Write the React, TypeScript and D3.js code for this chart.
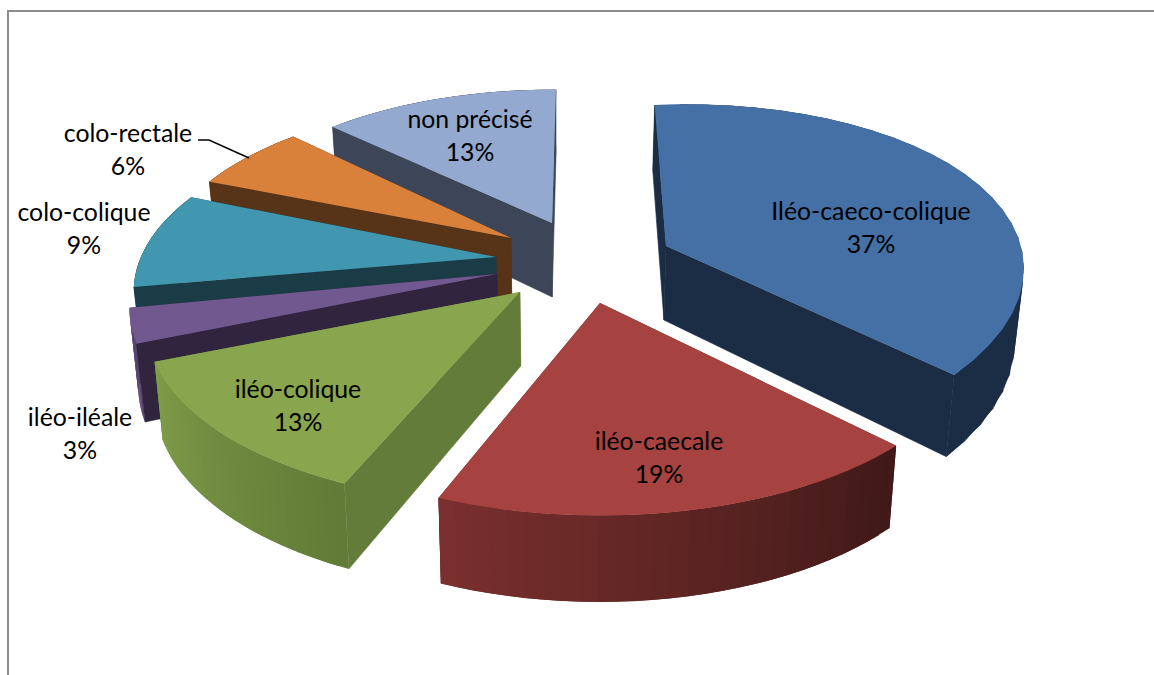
import React from "react";
import * as d3 from "d3";

// ---- data ----
const categories = ["Iléo-caeco-colique", "iléo-caecale", "iléo-colique", "iléo-iléale", "colo-colique", "colo-rectale", "non précisé"];
const percents = [37, 19, 13, 3, 9, 6, 13];

// ---- layout of each exploded slice (same order as categories) ----
const firstAngle = -4.5;
const apexX = [666, 600, 520, 497, 496, 511, 552];
const apexY = [246, 303, 292, 274, 257, 238, 223];
const radiusX = [355, 365, 365, 360, 355, 348, 341];
const radiusY = [170, 170, 170, 170, 168, 165, 160];
const shearX = [-0.15, 0, 0, 0, 0, 0, 0];
const nudgeStart = [-1.8, 7.3, 6.0, 3.8, 5.4, 4.4, 4.3];
const nudgeEnd = [2.5, 4, 3.8, 4.3, 5.4, 5.8, 5.3];
const perspective = 0.2;
const depth = 74;
const bottomScale = 0.98;
const vanishX = 560;

// ---- colours ----
const topColors = ["#4570a6", "#a64340", "#89a54e", "#71588f", "#4197af", "#d9803b", "#93a9cf"];
const sideColors = ["#1b2d45", "#421a18", "#647c3a", "#30243f", "#1a3c47", "#573417", "#3c4658"];
const wallFrom = ["#1b2d45", "#3f1918", "#617b37", "#5a4672", "#1a3c47", "#573417", "#3c4658"];
const wallTo = ["#1b2d45", "#7a302e", "#7f9c49", "#5a4672", "#1a3c47", "#573417", "#3c4658"];
const paintOrder = [6, 5, 4, 3, 2, 1, 0];

// ---- labels ----
const labelX = [871, 659, 298, 80, 84, 128, 470];
const labelY = [220, 450, 398, 426, 221, 142, 128];
const lineGap = 33;
const leader: [number, number][] = [[198, 140], [209, 140], [249, 158]];

const deg = Math.PI / 180;
const toPath = d3.line<[number, number]>();
const slices = d3.pie<number>().sort(null).startAngle(firstAngle * deg).endAngle((360 + firstAngle) * deg)(percents);

type Pt = [number, number];
const sink = (x: number) => vanishX + (x - vanishX) * bottomScale;
function project(i: number, theta: number, h: number): Pt {
  const u = Math.sin(theta);
  const v = -Math.cos(theta);
  const s = 1 / (1 - perspective * v);
  const dy = radiusY[i] * v * s;
  const dx = radiusX[i] * u * s + shearX[i] * dy;
  const x = apexX[i] + dx;
  return [h ? sink(x) : x, apexY[i] + dy + h * depth * Math.pow(s, 0.7)];
}

function Slice({ i }: { i: number }) {
  const t0 = slices[i].startAngle + nudgeStart[i] * deg;
  const t1 = slices[i].endAngle + nudgeEnd[i] * deg;
  const n = 28;
  const angles = d3.range(n + 1).map((k) => t0 + ((t1 - t0) * k) / n);
  const apexTop: Pt = [apexX[i], apexY[i]];
  const apexBottom: Pt = [sink(apexX[i]), apexY[i] + depth];
  const rim = angles.map((a) => project(i, a, 0));
  const color = d3.interpolateRgb(wallFrom[i], wallTo[i]);
  const segments = d3.range(n).map((k) => {
    const a = angles[k];
    const b = angles[Math.min(k + 2, n)];
    return {
      k,
      front: -Math.cos((angles[k] + angles[k + 1]) / 2) >= 0,
      d: toPath([project(i, a, 0), project(i, b, 0), project(i, b, 1), project(i, a, 1)])! + "Z",
      c: color((k + 0.5) / n),
    };
  });
  const wall = (s: (typeof segments)[number]) => <path key={s.k} d={s.d} fill={s.c} />;
  const startFront = Math.sin(t0) < 0;
  const endFront = Math.sin(t1) > 0;
  const radial = (a: number) =>
    toPath([apexTop, project(i, a, 0), project(i, a, 1), apexBottom])! + "Z";
  const side = sideColors[i];
  const backRadials = [!startFront ? t0 : null, !endFront ? t1 : null].filter((a) => a !== null) as number[];
  const frontRadials = [startFront ? t0 : null, endFront ? t1 : null].filter((a) => a !== null) as number[];
  return (
    <g>
      {segments.filter((s) => !s.front).map(wall)}
      {backRadials.map((a) => <path key={a} d={radial(a)} fill={side} />)}
      {segments.filter((s) => s.front).map(wall)}
      {frontRadials.map((a) => <path key={a} d={radial(a)} fill={side} stroke={side} strokeWidth={0.6} />)}
      <path d={toPath([apexTop, ...rim])! + "Z"} fill={topColors[i]} />
    </g>
  );
}

export default function App() {
  return (
    <svg
      width={1154}
      height={675}
      viewBox="0 0 1154 675"
      style={{ position: "absolute", left: 0, top: 0, display: "block", background: "#fff" }}
    >
      <path d="M8 675V11H1154" fill="none" stroke="#8c8c8c" strokeWidth={2} />
      {paintOrder.map((i) => <Slice key={i} i={i} />)}
      <path d={toPath(leader)!} fill="none" stroke="#000" strokeWidth={1.4} />
      <g fontFamily="Lato, 'Noto Sans', sans-serif" fontSize={24.8} fill="#000" textAnchor="middle">
        {categories.map((c, i) => (
          <g key={c}>
            <text x={labelX[i]} y={labelY[i]}>{c}</text>
            <text x={labelX[i]} y={labelY[i] + lineGap}>{percents[i]}%</text>
          </g>
        ))}
      </g>
    </svg>
  );
}
